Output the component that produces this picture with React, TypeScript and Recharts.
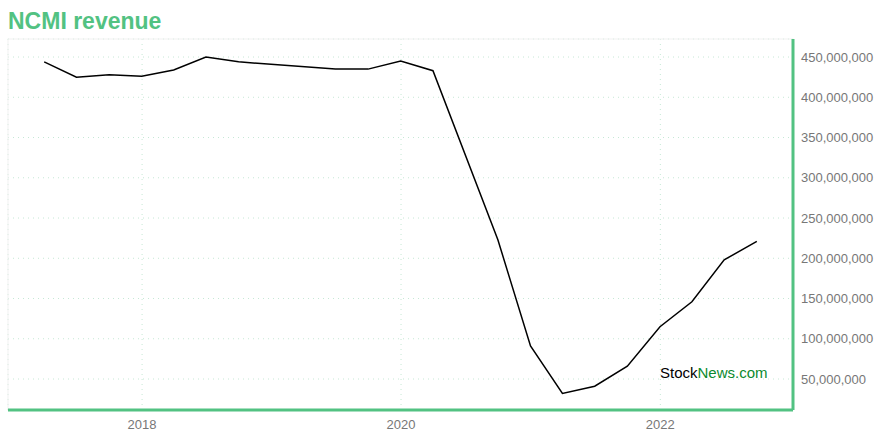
import React from 'react';
import { LineChart, Line, XAxis, YAxis, CartesianGrid } from 'recharts';

const quarterEnds = [
  '2017-03-31', '2017-06-30', '2017-09-30', '2017-12-31',
  '2018-03-31', '2018-06-30', '2018-09-30',
  '2019-06-30', '2019-09-30', '2019-12-31',
  '2020-03-31', '2020-09-30', '2020-12-31',
  '2021-03-31', '2021-06-30', '2021-09-30', '2021-12-31',
  '2022-03-31', '2022-06-30', '2022-09-30',
];

const revenue = [
  444e6, 425e6, 428e6, 426e6,
  434e6, 450e6, 444e6,
  435e6, 435e6, 445e6,
  433e6, 223e6, 91e6,
  32e6, 41e6, 66e6, 115e6,
  146e6, 198e6, 221e6,
];

const yearTicks = ['2018-01-01', '2020-01-01', '2022-01-01'].map((d) => Date.parse(d));
const revenueTicks = [50e6, 100e6, 150e6, 200e6, 250e6, 300e6, 350e6, 400e6, 450e6];

const data = quarterEnds.map((d, i) => ({ t: Date.parse(d), revenue: revenue[i] }));

const green = '#52c282';
const gridColor = '#c5e8d5';

export default function App() {
  return (
    <div style={{ position: 'absolute', left: 0, top: 0, width: 880, height: 440, background: '#fff', fontFamily: '"Liberation Sans", Arial, sans-serif' }}>
      <div style={{ position: 'absolute', left: 8, top: 7, fontSize: 23, fontWeight: 'bold', color: green, lineHeight: '28px' }}>
        NCMI revenue
      </div>
      <LineChart
        width={880}
        height={440}
        data={data}
        margin={{ top: 39, right: 7, left: 8, bottom: 8 }}
        style={{ position: 'absolute', left: 0, top: 0 }}
      >
        <rect x={8} y={39} width={785} height={371} fill="none" stroke="#f2f2f2" />
        <CartesianGrid stroke={gridColor} strokeDasharray="1 4" horizontalPoints={undefined} />
        <XAxis
          dataKey="t"
          type="number"
          scale="time"
          domain={[Date.parse('2016-12-19'), Date.parse('2023-01-10')]}
          ticks={yearTicks}
          tickFormatter={(v: number) => String(new Date(v).getUTCFullYear())}
          axisLine={{ stroke: green, strokeWidth: 3 }}
          tickLine={false}
          tickMargin={4}
          height={22}
          tick={{ fill: '#777', fontSize: 13 }}
          allowDataOverflow
        />
        <YAxis
          orientation="right"
          type="number"
          domain={[11.5e6, 472.4e6]}
          ticks={revenueTicks}
          tickFormatter={(v: number) => v.toLocaleString('en-US')}
          axisLine={{ stroke: green, strokeWidth: 3 }}
          tickLine={false}
          width={80}
          tick={{ fill: '#777', fontSize: 13, textAnchor: 'start' }}
          allowDataOverflow
        />
        <Line
          type="linear"
          dataKey="revenue"
          stroke="#000"
          strokeWidth={1.5}
          dot={false}
          isAnimationActive={false}
        />
      </LineChart>
      <div style={{ position: 'absolute', left: 660, top: 364, fontSize: 15, lineHeight: '18px' }}>
        <span style={{ color: '#000' }}>Stock</span>
        <span style={{ color: '#0a8a2e' }}>News.com</span>
      </div>
    </div>
  );
}
